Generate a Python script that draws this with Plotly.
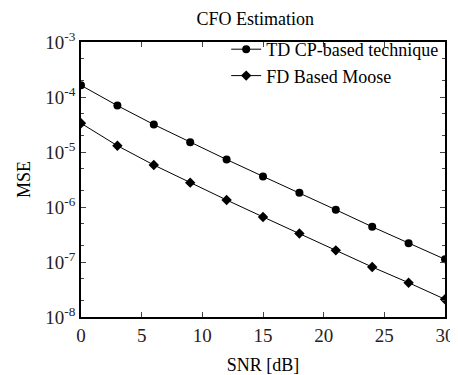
import plotly.graph_objects as go

snr = [0, 3, 6, 9, 12, 15, 18, 21, 24, 27, 30]
td_cp = [1.63e-4, 6.97e-5, 3.16e-5, 1.5e-5, 7.3e-6, 3.6e-6, 1.82e-6, 8.9e-7, 4.37e-7, 2.2e-7, 1.12e-7]
fd_moose = [3.33e-5, 1.3e-5, 5.8e-6, 2.77e-6, 1.34e-6, 6.6e-7, 3.3e-7, 1.63e-7, 8.1e-8, 4.2e-8, 2.1e-8]
y_tickvals = [1e-3, 1e-4, 1e-5, 1e-6, 1e-7, 1e-8]
y_exponents = ["-3", "-4", "-5", "-6", "-7", "-8"]
y_ticktext = ["10<sup>%s</sup>" % e for e in y_exponents]
x_tickvals = [0, 5, 10, 15, 20, 25, 30]

font = "Liberation Serif"
fig = go.Figure()
fig.add_trace(go.Scatter(x=snr, y=td_cp, mode="lines+markers", name="TD CP-based technique",
                         line=dict(color="black", width=1), marker=dict(symbol="circle", size=8, color="black")))
fig.add_trace(go.Scatter(x=snr, y=fd_moose, mode="lines+markers", name="FD Based Moose",
                         line=dict(color="black", width=1), marker=dict(symbol="diamond", size=8, color="black")))

fig.update_layout(
    width=458, height=375,
    margin=dict(l=73, r=11, t=34, b=56),
    paper_bgcolor="white", plot_bgcolor="white",
    font=dict(family=font, size=16, color="black"),
    title=dict(text="CFO Estimation", x=0.54, xanchor="center", y=0.972, yanchor="middle", font=dict(size=18)),
    showlegend=True,
    legend=dict(x=0.995, xanchor="right", y=1.04, yanchor="top", bgcolor="rgba(255,255,255,0)",
                font=dict(size=18), itemwidth=30, tracegroupgap=0),
)
fig.update_xaxes(range=[0, 30], tickvals=x_tickvals, ticks="inside", ticklen=5, showline=True,
                 linecolor="black", linewidth=1.5, mirror="ticks", showgrid=False, zeroline=False,
                 title=dict(text="SNR [dB]", standoff=14, font=dict(size=18)), tickfont=dict(size=19, color="#2a2020"))
fig.update_yaxes(type="log", range=[-8, -3], tickvals=y_tickvals, ticktext=y_ticktext, ticks="inside", ticklen=5,
                 showline=True, linecolor="black", linewidth=1.5, mirror="ticks", showgrid=False, zeroline=False,
                 minor=dict(ticks="inside", ticklen=3, showgrid=False),
                 title=dict(text="MSE", standoff=10, font=dict(size=18)), tickfont=dict(size=19, color="#2a2020"))

fig.write_html("out.html")
